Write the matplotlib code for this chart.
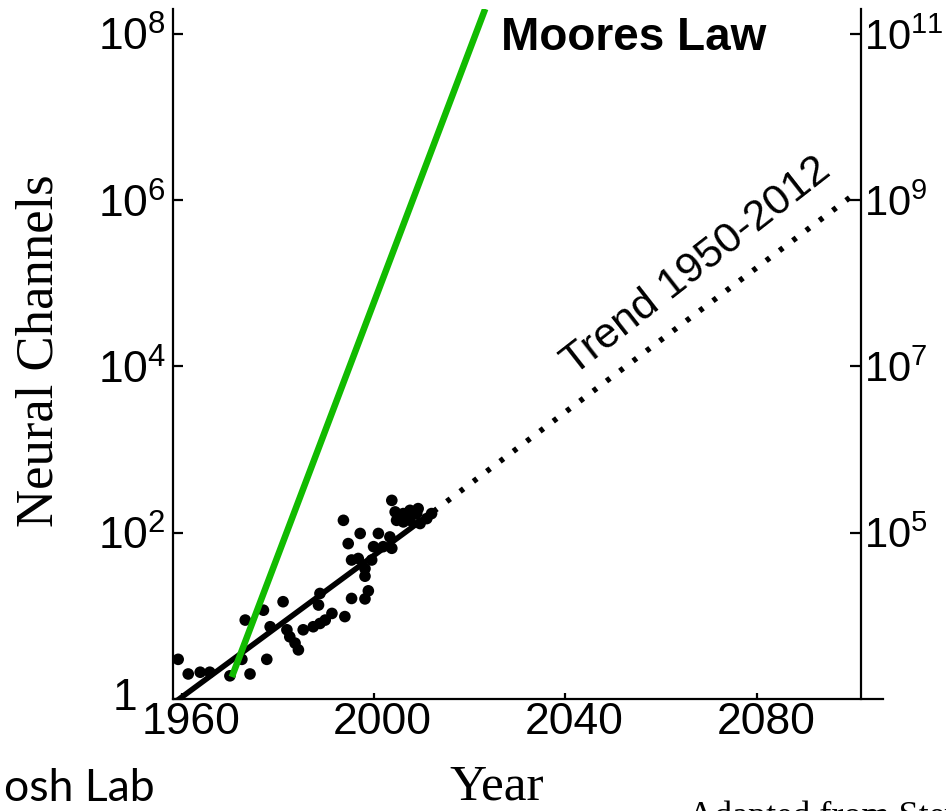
import numpy as np
import matplotlib
matplotlib.use('Agg')
import matplotlib.pyplot as plt
from matplotlib.transforms import ScaledTranslation

plt.rcParams['mathtext.fontset'] = 'custom'
plt.rcParams['mathtext.rm'] = 'Liberation Sans'
plt.rcParams['mathtext.it'] = 'Liberation Sans:italic'
plt.rcParams['mathtext.bf'] = 'Liberation Sans:bold'
plt.rcParams['font.family'] = 'Liberation Sans'

# recordings: year vs number of simultaneously recorded neurons
rec_years = [1959.2, 1961.3, 1963.8, 1965.8, 1970.0, 1972.5, 1974.2, 1973.2, 1977.0, 1977.7,
             1978.4, 1981.1, 1981.9, 1982.5, 1983.6, 1984.3, 1985.3, 1987.4, 1988.8, 1988.5,
             1988.8, 1989.9, 1991.3, 1994.0, 1995.4, 1993.7, 1994.7, 1995.4, 1997.2, 1996.8,
             1998.2, 1998.2, 1998.9, 1998.2, 1999.6, 2001.0, 2000.0, 2002.0, 2003.8, 2003.4,
             2003.8, 2004.8, 2004.5, 2006.2, 2007.6, 2009.0, 2009.3, 2009.7, 2011.1, 2012.1,
             2006.2, 2007.6]
rec_channels = [3.0, 2.0, 2.1, 2.1, 1.9, 3.0, 2.0, 8.9, 11.7, 3.0,
                7.4, 14.8, 6.8, 5.6, 4.7, 3.9, 6.8, 7.4, 8.1, 13.5,
                18.6, 8.9, 10.7, 9.8, 16.2, 141, 74, 47, 98, 49,
                37, 30, 20, 16, 47, 98, 68, 68, 65, 89,
                245, 141, 178, 170, 186, 170, 195, 129, 148, 170,
                135, 141]

# fitted trend 1950-2012 and its extrapolation
trend_years = [1959.0, 2012.5]
trend_channels = [0.96, 180]
extrap_years = [2012.5, 2101.0]
extrap_channels = [180, 1.26e6]

# moore's law (doubling every 2 years)
moore_years = [1970.4, 2023.3]
moore_channels = [1.84, 2.0e8]

left_ticks = [1, 1e2, 1e4, 1e6, 1e8]
left_labels = ['', r'$10^{2}$', r'$10^{4}$', r'$10^{6}$', r'$10^{8}$']
right_ticks = [1e5, 1e7, 1e9, 1e11]
right_labels = [r'$10^{5}$', r'$10^{7}$', r'$10^{9}$', r'$10^{11}$']
year_ticks = [1960, 2000, 2040, 2080]

fig = plt.figure(figsize=(9.46, 8.11), dpi=100)
ax = fig.add_axes([173 / 946, 112 / 811, 710 / 946, 690 / 811])

ax.plot(trend_years, trend_channels, color='black', lw=4, solid_capstyle='butt', zorder=3)
ax.plot(extrap_years, extrap_channels, color='black', lw=4, linestyle=(0, (0.8, 2.2)),
        dash_capstyle='butt', zorder=3)
ax.scatter(rec_years, rec_channels, s=70, color='black', edgecolors='none', zorder=4)
ax.plot(moore_years, moore_channels, color='#11bb00', lw=4.7, solid_capstyle='butt', zorder=5)

ax.set_yscale('log')
ax.set_xlim(1958.12, 2106.35)
ax.set_ylim(1, 10 ** 8.3)

ax.spines['top'].set_visible(False)
ax.spines['right'].set_visible(False)
for s in ['left', 'bottom']:
    ax.spines[s].set_linewidth(1.6)

ax.set_yticks(left_ticks)
ax.set_yticklabels(left_labels)
ax.minorticks_off()
ax.tick_params(axis='y', direction='in', length=7, width=1.6, labelsize=32, pad=5)
ax.set_xticks(year_ticks)
ax.set_xticklabels([str(y) for y in year_ticks])
ax.set_xticks([2012], minor=True)
ax.tick_params(axis='x', which='major', direction='in', length=4, width=1.6, labelsize=32, pad=2)
ax.tick_params(axis='x', which='minor', direction='in', length=2.5, width=1.6)
ax.tick_params(axis='y', which='minor', left=False)
off = ScaledTranslation(9 / 100, 0, fig.dpi_scale_trans)
for lab in ax.get_xticklabels():
    lab.set_transform(lab.get_transform() + off)
ax.text(-0.05, 0, '1', transform=ax.transAxes, fontsize=32, ha='right', va='center')

# right axis, scaled by 1000
ax2 = ax.twinx()
ax2.set_yscale('log')
ax2.set_ylim(1e3, 10 ** 11.3)
for s in ['top', 'left', 'bottom']:
    ax2.spines[s].set_visible(False)
ax2.spines['right'].set_position(('data', 2101.7))
ax2.spines['right'].set_linewidth(1.6)
ax2.set_yticks(right_ticks)
ax2.set_yticklabels(right_labels)
ax2.minorticks_off()
ax2.tick_params(axis='y', direction='in', length=8, width=1.6, labelsize=30, pad=2)

ax.text(2054.2, 10 ** 7.95, 'Moores Law', fontsize=33, fontweight='bold', ha='center', va='center')
ax.text(2067.5, 10 ** 5.2, 'Trend 1950-2012', fontsize=31, rotation=38,
        rotation_mode='anchor', ha='center', va='center')

fig.text(0.042, 0.568, 'Neural Channels', family='Liberation Serif', fontsize=38,
         rotation=90, ha='center', va='center')
fig.text(0.525, 0.014, 'Year', family='Liberation Serif', fontsize=37, ha='center', va='baseline')
fig.text(0.004, 0.012, 'osh Lab', family='Lato', fontsize=32, ha='left', va='baseline')
fig.text(0.727, -0.018, 'Adapted from Stevenson & Kording 2011', family='Liberation Serif',
         fontsize=26, ha='left', va='baseline')

fig.savefig('out.png', dpi=100)
